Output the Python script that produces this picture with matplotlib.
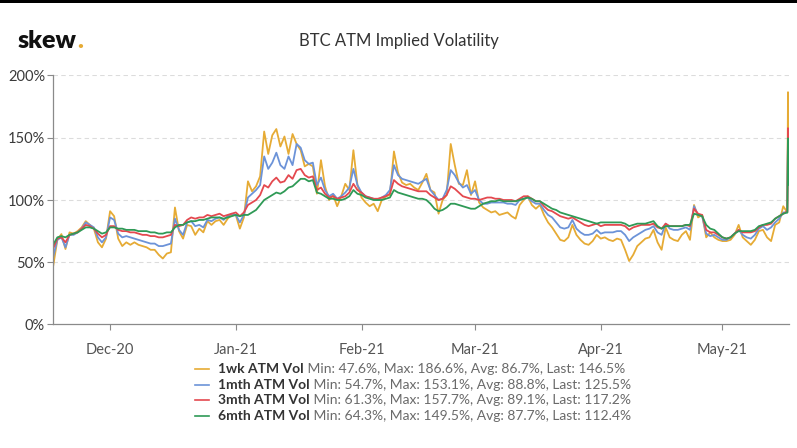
import matplotlib
matplotlib.use('Agg')
import matplotlib.pyplot as plt
import matplotlib.dates as mdates
from matplotlib.lines import Line2D
from matplotlib.patches import Rectangle
from matplotlib.ticker import FuncFormatter
import pandas as pd

plt.rcParams['font.family'] = ['Lato', 'DejaVu Sans']

# ---------------- data ----------------
dates = list(pd.date_range('2020-11-17', '2021-05-17', freq='D')) + [
    pd.Timestamp('2021-05-17 04:00'), pd.Timestamp('2021-05-17 07:00')]

vol_1wk = [
    47.6, 68, 72.6, 60.6, 74, 73, 75, 78, 83, 80,
    77, 66, 62, 69, 91, 87, 69, 63, 66, 64,
    66, 64, 63, 62, 60, 60, 56, 53, 57, 58,
    94, 75, 69, 80, 79, 72, 77, 74, 83, 80,
    83, 84, 80, 85, 88, 88, 77, 86,
    115, 107, 111, 119, 155, 137, 152, 157, 143, 151,
    137, 153, 145, 140, 127, 129, 127, 105, 132, 111,
    100, 104, 95, 103, 113, 108, 140,
    112, 102, 98, 95, 97, 91, 100, 103, 104, 139,
    122, 114, 112, 113, 110, 108, 114, 121, 108, 106,
    89, 100, 104, 145, 128, 113, 112, 124, 104, 115,
    98, 94, 92, 90, 91, 88, 89, 90, 87, 85,
    96, 100, 103, 96, 93, 96, 88, 82, 78, 73,
    68, 67, 70, 80, 72, 68, 65, 64, 67, 72,
    69, 70, 68, 67, 69, 68, 60, 51, 56, 63,
    66, 69, 70, 76, 66, 60, 78, 70, 68, 67,
    72, 75, 68, 96, 86, 88, 70, 74,
    70, 68, 67, 67, 68, 72, 80, 70, 67,
    64, 68, 75, 76, 70, 67, 80, 82, 95, 90,
    186.6, 146.5]

vol_1mth = [
    54.7, 68, 70, 62, 72, 72, 74, 77, 82, 80,
    78, 70, 66, 70, 86, 84, 73, 70, 71, 70,
    69, 68, 67, 66, 65, 65, 63, 63, 64, 65,
    85, 76, 72, 82, 83, 79, 80, 78, 84, 83,
    85, 86, 84, 87, 89, 88, 82, 88,
    102, 105, 108, 112, 135, 125, 130, 138, 128, 125,
    135, 128, 145, 142, 132, 129, 130, 112, 118, 108,
    103, 105, 101, 103, 106, 110, 125,
    112, 106, 103, 102, 101, 100, 102, 104, 108, 128,
    120, 117, 116, 115, 114, 113, 115, 117, 108, 104,
    100, 101, 108, 124, 120, 114, 110, 112, 105, 108,
    100, 97, 97, 98, 98, 98, 98, 97, 97, 96,
    100, 101, 102, 99, 97, 97, 92, 88, 86, 82,
    78, 77, 78, 84, 77, 74, 72, 72, 73, 76,
    73, 74, 74, 74, 75, 75, 72, 67, 70, 72,
    74, 76, 77, 79, 74, 72, 81, 77, 76, 76,
    77, 78, 76, 95, 88, 87, 73, 71,
    72, 70, 68, 68, 70, 73, 76, 72, 70,
    69, 72, 77, 79, 76, 78, 82, 85, 90, 90,
    153.1, 125.5]

vol_3mth = [
    61.3, 69, 70, 66, 72, 73, 74, 77, 80, 79,
    77, 73, 70, 72, 79, 79, 76, 75, 75, 74,
    74, 73, 72, 72, 71, 71, 70, 70, 71, 72,
    80, 79, 80, 84, 86, 85, 86, 86, 88, 87,
    88, 89, 87, 88, 89, 90, 87, 90,
    96, 98, 100, 104, 112, 110, 115, 118, 114, 115,
    120, 117, 124, 125, 120, 118, 119, 108, 110, 105,
    102, 103, 101, 102, 103, 106, 113,
    108, 106, 103, 102, 101, 101, 102, 103, 105, 116,
    113, 111, 110, 109, 108, 107, 107, 107, 104, 102,
    100, 101, 104, 111, 109, 106, 103, 102, 101, 101,
    100, 101, 102, 102, 101, 101, 100, 100, 100, 99,
    101, 103, 103, 101, 99, 99, 95, 92, 91, 89,
    87, 86, 85, 86, 84, 82, 80, 79, 80, 81,
    79, 80, 80, 80, 80, 80, 79, 76, 78, 79,
    80, 80, 80, 81, 78, 77, 81, 79, 79, 79,
    79, 80, 79, 93, 89, 88, 76, 74,
    74, 72, 70, 69, 70, 73, 76, 74, 74,
    74, 75, 78, 80, 80, 81, 85, 87, 89, 91,
    157.7, 117.2]

vol_6mth = [
    64.3, 70, 71, 70, 72, 73, 74, 76, 78, 78,
    77, 75, 73, 74, 78, 78, 77, 77, 76, 76,
    76, 75, 75, 75, 74, 74, 73, 73, 74, 74,
    78, 80, 80, 82, 83, 83, 84, 84, 85, 86,
    86, 86, 85, 86, 87, 88, 87, 88,
    88, 90, 92, 96, 100, 102, 104, 106, 105, 107,
    110, 111, 114, 117, 117, 115, 116, 106, 105, 103,
    101, 101, 100, 100, 101, 103, 108,
    105, 104, 102, 101, 100, 100, 100, 101, 102, 108,
    106, 105, 104, 103, 102, 101, 101, 100, 97, 93,
    91, 92, 94, 97, 97, 96, 95, 94, 93, 93,
    95, 97, 98, 99, 99, 100, 99, 99, 99, 99,
    100, 101, 102, 101, 99, 99, 97, 95, 93, 92,
    90, 89, 88, 87, 86, 85, 84, 83, 82, 81,
    82, 82, 82, 82, 82, 82, 81, 79, 80, 81,
    81, 81, 82, 83, 79, 77, 79, 79, 79, 79,
    79, 80, 80, 89, 88, 87, 80, 77,
    76, 73, 70, 69, 70, 73, 75, 75, 75,
    75, 76, 79, 80, 81, 82, 85, 87, 89, 90,
    149.5, 112.4]

series_names = ['1wk ATM Vol', '1mth ATM Vol', '3mth ATM Vol', '6mth ATM Vol']
series_stats = ['Min: 47.6%, Max: 186.6%, Avg: 86.7%, Last: 146.5%',
                'Min: 54.7%, Max: 153.1%, Avg: 88.8%, Last: 125.5%',
                'Min: 61.3%, Max: 157.7%, Avg: 89.1%, Last: 117.2%',
                'Min: 64.3%, Max: 149.5%, Avg: 87.7%, Last: 112.4%']
y_ticks = [0, 50, 100, 150, 200]
title = 'BTC ATM Implied Volatility'

# ---------------- style ----------------
colors = ['#E6AB35', '#6C93D8', '#E4494F', '#2F9A56']
W, H = 797, 448
fig = plt.figure(figsize=(W / 100, H / 100), dpi=100)
fig.patch.set_facecolor('white')

ax = fig.add_axes([53.3 / W, 1 - 324.5 / H, (789 - 53.3) / W, (324.5 - 75.5) / H])
for vals, c in zip([vol_1wk, vol_1mth, vol_3mth, vol_6mth], colors):
    ax.plot(dates, vals, color=c, lw=1.3, solid_joinstyle='round')

ax.set_ylim(0, 200)
ax.set_xlim(pd.Timestamp('2020-11-17'), pd.Timestamp('2021-05-17 10:00'))
ax.set_yticks(y_ticks)
ax.yaxis.set_major_formatter(FuncFormatter(lambda v, p: f'{v:.0f}%'))
ax.xaxis.set_major_locator(mdates.MonthLocator())
ax.xaxis.set_major_formatter(mdates.DateFormatter('%b-%y'))

for y in y_ticks[1:]:
    ax.axhline(y, color='#dcdcdc', lw=0.8, ls=(0, (4, 3)), zorder=0)

for s in ['top', 'right']:
    ax.spines[s].set_visible(False)
for s in ['left', 'bottom']:
    ax.spines[s].set_color('#8a8a8a')
    ax.spines[s].set_linewidth(0.9)
ax.tick_params(axis='y', length=4, width=0.8, color='#8a8a8a', labelsize=10.5,
               labelcolor='#3a3a3a', pad=2)
ax.tick_params(axis='x', length=4, width=0.8, color='#8a8a8a', labelsize=10.5,
               labelcolor='#555555', pad=9)

# top black border
fig.add_artist(Rectangle((0, 1 - 3 / H), 1, 3 / H, transform=fig.transFigure,
                         color='black', lw=0))

# logo
logo = fig.text(18 / W, 1 - 41 / H, 'skew', fontsize=18, fontweight='heavy',
                color='#111111', va='center', ha='left')
ax.annotate('.', xy=(1, 0), xycoords=logo, xytext=(0, 0), textcoords='offset points',
            fontsize=18, fontweight='heavy', color='#E6AB35', va='bottom', ha='left',
            annotation_clip=False)

# title
fig.text(0.5, 1 - 41 / H, title, fontsize=12, color='#333333',
         ha='center', va='center')

# legend
row_y = [369, 384.5, 400, 415.5]
for name, st, c, yy in zip(series_names, series_stats, colors, row_y):
    fig.add_artist(Line2D([195 / W, 209 / W], [1 - yy / H, 1 - yy / H],
                          transform=fig.transFigure, color=c, lw=1.2))
    t = fig.text(218 / W, 1 - yy / H, name, fontsize=10, fontweight='bold',
                 color='#333333', va='center', ha='left')
    ax.annotate(' ' + st, xy=(1, 0), xycoords=t, xytext=(0, 0),
                textcoords='offset points', fontsize=10, color='#6a6a6a',
                va='bottom', ha='left', annotation_clip=False)

fig.savefig('out.png', dpi=100, facecolor='white')
